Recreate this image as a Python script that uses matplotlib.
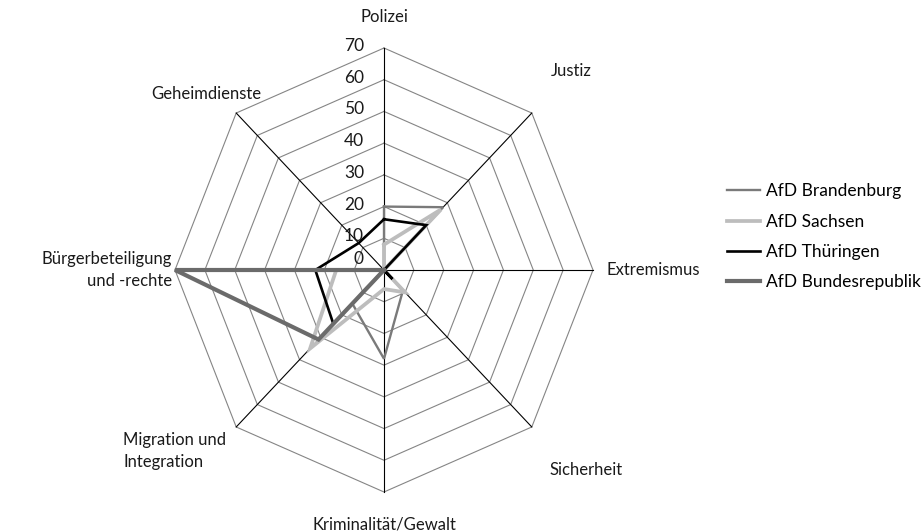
import numpy as np
import matplotlib
matplotlib.use("Agg")
import matplotlib.pyplot as plt

plt.rcParams['font.family'] = ['Lato', 'DejaVu Sans']

categories = ["Polizei", "Justiz", "Extremismus", "Sicherheit",
              "Kriminalität/Gewalt", "Migration und\nIntegration",
              "Bürgerbeteiligung\nund -rechte", "Geheimdienste"]
series_names = ["AfD Brandenburg", "AfD Sachsen", "AfD Thüringen", "AfD Bundesrepublik"]
brandenburg = [20, 28, 0, 9, 28, 15, 0, 0]
sachsen = [8, 27, 0, 10, 6, 35, 16, 0]
thueringen = [16, 20, 0, 4, 0, 24, 23, 12]
bundesrepublik = [0, 0, 0, 0, 0, 31, 70, 0]
r_ticks = [0, 10, 20, 30, 40, 50, 60, 70]

series = [brandenburg, sachsen, thueringen, bundesrepublik]
colors = ["#7a7a7a", "#bdbdbd", "#000000", "#6b6b6b"]
widths = [1.7, 2.7, 1.9, 3.0]

n = len(categories)
theta = np.arange(n) * 2 * np.pi / n
sx, cy = np.sin(theta), np.cos(theta)
rmax = r_ticks[-1]

fig = plt.figure(figsize=(9.24, 5.32), dpi=100)
ax = fig.add_axes([175 / 924, 40 / 532, 418 / 924, 444 / 532])
ax.set_xlim(-rmax, rmax)
ax.set_ylim(-rmax, rmax)
ax.axis("off")

# octagonal grid
for r in r_ticks[1:]:
    ax.plot(np.append(r * sx, r * sx[0]), np.append(r * cy, r * cy[0]),
            color="#858585", lw=0.8, zorder=1, clip_on=False)
# spokes
for i in range(n):
    ax.plot([0, rmax * sx[i]], [0, rmax * cy[i]], color="black", lw=0.8,
            zorder=2, clip_on=False)

# series
handles = []
for vals, name, c, w in zip(series, series_names, colors, widths):
    v = np.array(vals + vals[:1], dtype=float)
    t = np.append(theta, theta[0])
    h, = ax.plot(v * np.sin(t), v * np.cos(t), color=c, lw=w, label=name,
                 zorder=3, clip_on=False, solid_joinstyle="miter")
    handles.append(h)

# radial tick labels
for r in r_ticks:
    dy = 11 if r == 0 else 2
    ax.annotate(str(r), xy=(0, r), xytext=(-20, dy), textcoords="offset pixels",
                ha="right", va="center", fontsize=12.5, color="#1a1a1a")

# category labels
offsets = [(0, 31, "center", "center"), (39, 42, "center", "center"),
           (14, 0, "left", "center"), (54, -43, "center", "center"),
           (0, -32, "center", "center"), (-10, -24, "right", "center"),
           (-3, 0, "right", "center"), (-30, 19, "center", "center")]
malign = ["center", "center", "left", "center", "center", "left", "right", "center"]
for i, lab in enumerate(categories):
    ox, oy, ha, va = offsets[i]
    ax.annotate(lab, xy=(rmax * sx[i], rmax * cy[i]), xytext=(ox, oy),
                textcoords="offset pixels", ha=ha, va=va, multialignment=malign[i],
                fontsize=12, color="#1a1a1a", linespacing=1.5)

fig.legend(handles=handles, loc="center left", bbox_to_anchor=(727 / 924, 0.555),
           frameon=False, fontsize=12.5, handlelength=1.9, handletextpad=0.35,
           labelspacing=0.82, borderpad=0, borderaxespad=0)

fig.savefig("out.png", dpi=100)
